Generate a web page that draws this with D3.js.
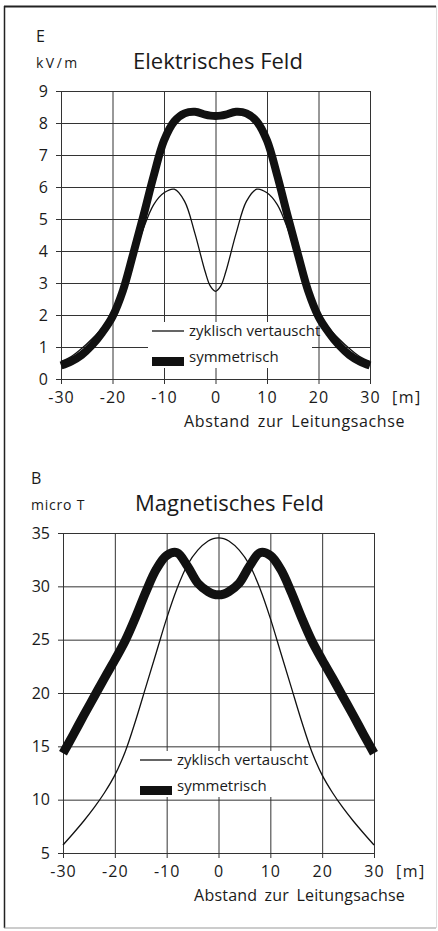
<!DOCTYPE html>
<html>
<head>
<meta charset="utf-8">
<script src="https://cdn.jsdelivr.net/npm/d3@7"></script>
<style>
body { margin: 0; background: #fff; }
text { font-family: "Open Sans", sans-serif; fill: #1a1a1a; }
</style>
</head>
<body>
<div id="chart"></div>
<script>
// distance to line axis [m]
var dist = [-30,-28,-26,-24,-22,-20,-18,-16,-14,-12,-10,-8,-6,-4,-2,-1,0,1,2,4,6,8,10,12,14,16,18,20,22,24,26,28,30];

// electric field kV/m
var eZyklisch = [0.55,0.7,0.95,1.25,1.6,2.05,2.75,3.7,4.7,5.45,5.82,5.93,5.55,4.55,3.35,2.9,2.74,2.9,3.35,4.55,5.55,5.93,5.82,5.45,4.7,3.7,2.75,2.05,1.6,1.25,0.95,0.7,0.55];
var eSymm = [0.42,0.55,0.75,1.05,1.45,1.95,2.75,3.9,5.1,6.35,7.45,8.05,8.3,8.35,8.26,8.23,8.22,8.23,8.26,8.35,8.3,8.05,7.45,6.35,5.1,3.9,2.75,1.95,1.45,1.05,0.75,0.55,0.42];

// magnetic field micro T
var bZyklisch = [5.75,6.85,8.0,9.25,10.65,12.3,14.5,17.4,20.6,23.8,27.0,29.8,32.0,33.4,34.25,34.48,34.55,34.48,34.25,33.4,32.0,29.8,27.0,23.8,20.6,17.4,14.5,12.3,10.65,9.25,8.0,6.85,5.75];
var bSymm = [14.35,16.1,17.9,19.65,21.4,23.1,24.9,27.1,29.5,31.6,32.9,33.15,31.9,30.3,29.5,29.27,29.2,29.27,29.5,30.3,31.9,33.15,32.9,31.6,29.5,27.1,24.9,23.1,21.4,19.65,17.9,16.1,14.35];

var xTicks = [-30,-20,-10,0,10,20,30];
var eTicks = [0,1,2,3,4,5,6,7,8,9];
var bTicks = [5,10,15,20,25,30,35];

var svg = d3.select("#chart").append("svg")
    .attr("width", 438)
    .attr("height", 931);

// outer frame
svg.append("line").attr("x1", 4).attr("y1", 6.5).attr("x2", 436).attr("y2", 6.5)
    .attr("stroke", "#222").attr("stroke-width", 2);
svg.append("line").attr("x1", 4.5).attr("y1", 6).attr("x2", 4.5).attr("y2", 928)
    .attr("stroke", "#222").attr("stroke-width", 1.5);
svg.append("line").attr("x1", 4).attr("y1", 928).attr("x2", 436).attr("y2", 928)
    .attr("stroke", "#999").attr("stroke-width", 1);
svg.append("line").attr("x1", 436.5).attr("y1", 6).attr("x2", 436.5).attr("y2", 928)
    .attr("stroke", "#ddd").attr("stroke-width", 1);

function panel(opt){
    var x = d3.scaleLinear().domain([-30, 30]).range([opt.left, opt.right]);
    var y = d3.scaleLinear().domain(opt.yDomain).range([opt.bottom, opt.top]);
    var w = opt.right - opt.left;
    var h = opt.bottom - opt.top;

    var gy = svg.append("g")
        .attr("transform", "translate(" + opt.left + ",0)")
        .call(d3.axisLeft(y).tickValues(opt.yTicks).tickSize(-w).tickPadding(13));
    gy.select(".domain").remove();
    gy.selectAll(".tick line").attr("x1", -5).attr("stroke", "#333");
    gy.selectAll(".tick text").attr("font-size", 16).attr("fill", "#1a1a1a");

    var gx = svg.append("g")
        .attr("transform", "translate(0," + opt.bottom + ")")
        .call(d3.axisBottom(x).tickValues(xTicks).tickSize(-h).tickPadding(13));
    gx.select(".domain").remove();
    gx.selectAll(".tick line").attr("y1", 5).attr("stroke", "#333");
    gx.selectAll(".tick text").attr("font-size", 16).attr("fill", "#1a1a1a")
        .attr("letter-spacing", 1)
        .text(function(d){ return d < 0 ? "-" + Math.abs(d) : d; });

    // legend background hides grid
    svg.append("rect")
        .attr("x", opt.legX - 4).attr("y", opt.legY - 9)
        .attr("width", 164).attr("height", 46)
        .attr("fill", "#fff");

    var line = d3.line()
        .x(function(d, i){ return x(dist[i]); })
        .y(function(d){ return y(d); })
        .curve(d3.curveCatmullRom);

    svg.append("path").datum(opt.symm)
        .attr("d", line)
        .attr("fill", "none")
        .attr("stroke", "#111")
        .attr("stroke-width", opt.thick)
        .attr("stroke-linejoin", "round");

    svg.append("path").datum(opt.zyk)
        .attr("d", line)
        .attr("fill", "none")
        .attr("stroke", "#111")
        .attr("stroke-width", 1.3);

    // legend
    svg.append("line")
        .attr("x1", opt.legX).attr("x2", opt.legX + 32)
        .attr("y1", opt.legY).attr("y2", opt.legY)
        .attr("stroke", "#111").attr("stroke-width", 1.3);
    svg.append("text")
        .attr("x", opt.legX + 37).attr("y", opt.legY + 5)
        .attr("font-size", 15)
        .text("zyklisch vertauscht");
    svg.append("rect")
        .attr("x", opt.legX).attr("y", opt.legY + 26)
        .attr("width", 32).attr("height", 9)
        .attr("fill", "#111");
    svg.append("text")
        .attr("x", opt.legX + 37).attr("y", opt.legY + 31)
        .attr("font-size", 15)
        .text("symmetrisch");

    // labels
    svg.append("text").attr("x", opt.unitX).attr("y", opt.top - 49)
        .attr("font-size", 16).text(opt.sym);
    svg.append("text").attr("x", opt.unitX).attr("y", opt.top - 23)
        .attr("font-size", 14).attr("letter-spacing", opt.unitSpacing).text(opt.unit);
    svg.append("text").attr("x", opt.titleX).attr("y", opt.top - 22)
        .attr("font-size", 22).text(opt.title);
    svg.append("text").attr("x", opt.right + 22).attr("y", opt.bottom + 24)
        .attr("font-size", 16).attr("letter-spacing", 1.5).text("[m]");
    svg.append("text").attr("x", 405).attr("y", opt.bottom + 48)
        .attr("text-anchor", "end")
        .attr("font-size", 16).attr("letter-spacing", opt.axisSpacing).attr("word-spacing", 3)
        .text("Abstand zur Leitungsachse");
}

panel({
    left: 61, right: 370, top: 91, bottom: 379,
    yDomain: [0, 9], yTicks: eTicks,
    symm: eSymm, zyk: eZyklisch, thick: 8,
    legX: 152, legY: 331,
    sym: "E", unit: "kV/m", unitX: 36, unitSpacing: 2.5,
    title: "Elektrisches Feld", titleX: 133, axisSpacing: 0.6
});

panel({
    left: 63, right: 374, top: 533, bottom: 853,
    yDomain: [5, 35], yTicks: bTicks,
    symm: bSymm, zyk: bZyklisch, thick: 9,
    legX: 140, legY: 760,
    sym: "B", unit: "micro  T", unitX: 31, unitSpacing: 0.8,
    title: "Magnetisches Feld", titleX: 135, axisSpacing: 0.2
});
</script>
</body>
</html>
